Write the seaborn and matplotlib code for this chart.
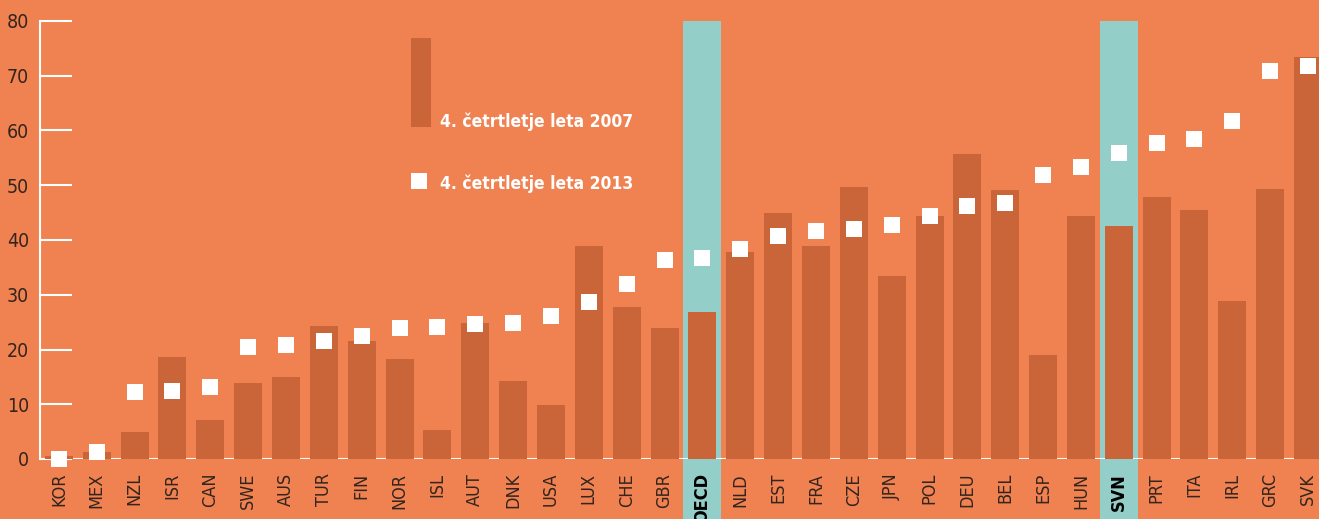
import matplotlib
matplotlib.use("Agg")
import matplotlib.pyplot as plt
import matplotlib.patches as mpatches
import pandas as pd
import seaborn as sns

# Data
countries = ["KOR", "MEX", "NZL", "ISR", "CAN", "SWE", "AUS", "TUR", "FIN", "NOR",
             "ISL", "AUT", "DNK", "USA", "LUX", "CHE", "GBR", "OECD", "NLD", "EST",
             "FRA", "CZE", "JPN", "POL", "DEU", "BEL", "ESP", "HUN", "SVN", "PRT",
             "ITA", "IRL", "GRC", "SVK"]
q4_2007 = [0.5, 1.3, 4.9, 18.6, 7.1, 13.9, 15.0, 24.3, 21.5, 18.3,
           5.3, 24.8, 14.2, 9.9, 38.9, 27.8, 23.9, 26.8, 37.8, 44.9,
           38.9, 49.7, 33.4, 44.4, 55.7, 49.1, 19.0, 44.4, 42.5, 47.8,
           45.5, 28.9, 49.3, 73.4]
q4_2013 = [0.0, 1.2, 12.2, 12.5, 13.1, 20.4, 20.9, 21.6, 22.4, 24.0,
           24.2, 24.6, 24.8, 26.1, 28.6, 31.9, 36.3, 36.8, 38.3, 40.8,
           41.7, 42.1, 42.8, 44.3, 46.3, 46.7, 51.9, 53.4, 55.8, 57.8,
           58.4, 61.8, 70.8, 71.7]
highlight = ["OECD", "SVN"]
yticks = [0, 10, 20, 30, 40, 50, 60, 70, 80]
legend_labels = ["4. četrtletje leta 2007", "4. četrtletje leta 2013"]

df = pd.DataFrame({"country": countries, "y2007": q4_2007, "y2013": q4_2013})

bg = "#F08252"
bar_c = "#C96539"
teal = "#93CEC9"
dark = "#33241C"

sns.set_theme(style="white")
plt.rcParams["font.family"] = ["DejaVu Sans"]

fig = plt.figure(figsize=(13.19, 5.19), dpi=100, facecolor=bg)
ax = fig.add_axes([40 / 1319, 60 / 519, 1 - 40 / 1319, 438 / 519])
ax.set_facecolor(bg)

# highlighted columns (extend below the axis through the labels)
for name in highlight:
    i = countries.index(name)
    ax.add_patch(mpatches.Rectangle((i - 0.5, -12), 1.0, 92, facecolor=teal,
                                    edgecolor="none", zorder=0.5, clip_on=False))

ax.axhline(0, color="white", lw=1.5, zorder=0.8)

sns.barplot(data=df, x="country", y="y2007", color=bar_c, width=0.74,
            saturation=1, linewidth=0, edgecolor="none", ax=ax, zorder=1)
sns.stripplot(data=df, x="country", y="y2013", color="white", marker="s",
              size=11, linewidth=0, jitter=False, ax=ax, zorder=3, clip_on=False)

ax.set_xlim(-0.5, 33.29)
ax.set_ylim(0, 80)
ax.set_yticks(yticks)
ax.set_xlabel("")
ax.set_ylabel("")

for s in ["top", "right", "bottom"]:
    ax.spines[s].set_visible(False)
ax.spines["left"].set_color("white")
ax.spines["left"].set_linewidth(1.5)

ax.tick_params(axis="y", left=True, direction="in", length=23, width=1.5,
               color="white", labelcolor=dark, labelsize=14, pad=8)
ax.tick_params(axis="x", bottom=False, length=0, labelcolor=dark, labelsize=13,
               pad=10, labelrotation=90)
for lab in ax.get_yticklabels():
    lab.set_fontstretch("condensed")
for lab in ax.get_xticklabels():
    lab.set_fontstretch("condensed")
    if lab.get_text() in highlight:
        lab.set_fontweight("bold")
        lab.set_color("black")

# legend
fig.patches.append(mpatches.Rectangle((411 / 1319, (519 - 127) / 519), 20 / 1319, 89 / 519,
                                      transform=fig.transFigure, facecolor=bar_c,
                                      edgecolor="none"))
fig.patches.append(mpatches.Rectangle((411 / 1319, (519 - 189) / 519), 16 / 1319, 16 / 519,
                                      transform=fig.transFigure, facecolor="white",
                                      edgecolor="none"))
fig.text(440 / 1319, (519 - 127) / 519, legend_labels[0], color="white",
         fontsize=12.5, fontweight="bold", fontstretch="condensed", va="baseline")
fig.text(440 / 1319, (519 - 189) / 519, legend_labels[1], color="white",
         fontsize=12.5, fontweight="bold", fontstretch="condensed", va="baseline")

fig.savefig("out.png", dpi=100, facecolor=bg)
